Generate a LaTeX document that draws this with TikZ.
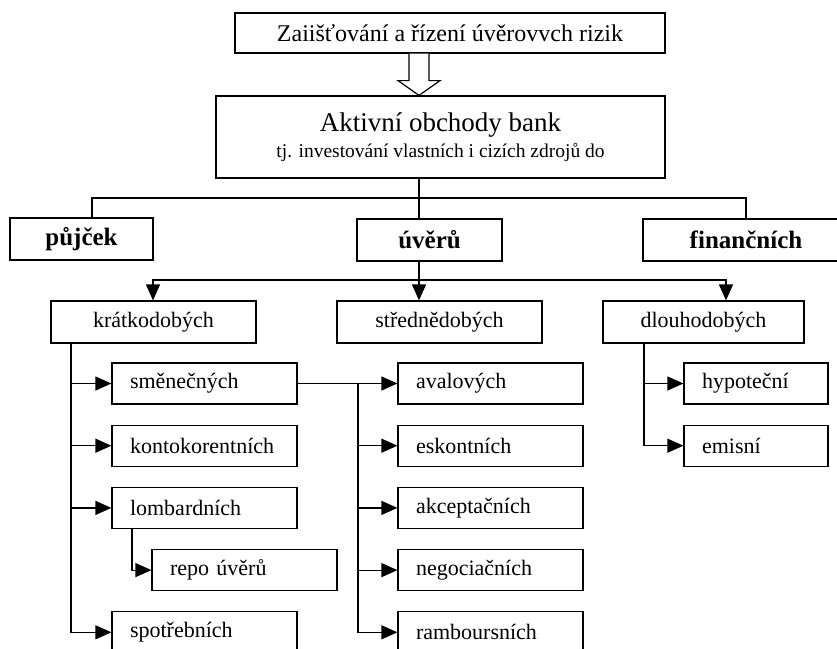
\documentclass[tikz,border=0pt]{standalone}
\usepackage{fontspec}
\setmainfont{Liberation Serif}
\usetikzlibrary{arrows.meta, positioning, calc}

\begin{document}
\begin{tikzpicture}[x=1pt,y=-1pt,node distance=20pt,>={Triangle[length=16pt,width=14pt]},line width=1.2pt]

	\tikzset{node box/.style={rectangle, draw, inner sep=0pt,
			minimum height=42pt,
			font=\fontsize{22}{26}\selectfont}}
	\tikzset{node head/.style={node box,
			font=\bfseries\fontsize{25}{28}\selectfont}}
	\tikzset{node sub/.style={node box, minimum height=41pt,
			inner xsep=18pt, text width=149pt, align=left}}
	\tikzset{link/.style={->, to path={|- (\tikztotarget)}}}

	\useasboundingbox (0,0) rectangle (837,648);
	\clip (0,0) rectangle (837,648);

	\node[node box, minimum width=430pt, minimum height=40pt, font=\fontsize{24}{28}\selectfont] (risk) at (450,33) {Zaiišťování a řízení úvěrovvch rizik};
	\node[node box, minimum width=449pt, minimum height=82pt, align=center, font=\fontsize{19.5}{26}\selectfont] (bank) at (440.5,137) {{\fontsize{27}{30}\selectfont Aktivní obchody bank}\\tj. investování vlastních i cizích zdrojů do};

	\node[node head, minimum width=143pt] (loan) at (81.5,239) {půjček};
	\node[node head, minimum width=145pt] (credit) at (429.5,240) {úvěrů};
	\node[node head, minimum width=206pt] (fin) at (746,240) {finančních};

	\node[node box, minimum width=205pt] (short) at (153.5,322) {krátkodobých};
	\node[node box, minimum width=205pt] (medium) at (439.5,322) {střednědobých};
	\node[node box, minimum width=201pt] (long) at (703.5,322) {dlouhodobých};

	\node[node sub] (S1) at (204.5,383.5) {směnečných};
	\node[node sub, below=of S1] (S2) {kontokorentních};
	\node[node sub, below=of S2] (S3) {lombardních};
	\node[node sub, below=of S3, xshift=40pt] (S4) {repo úvěrů};
	\node[node sub, below=of S4, xshift=-40pt] (S5) {spotřebních};

	\node[node sub] (M1) at (490.5,383.5) {avalových};
	\node[node sub, below=of M1] (M2) {eskontních};
	\node[node sub, below=of M2] (M3) {akceptačních};
	\node[node sub, below=of M3] (M4) {negociačních};
	\node[node sub, below=of M4] (M5) {ramboursních};

	\node[node sub, text width=108pt] (L1) at (756,383.5) {hypoteční};
	\node[node sub, text width=108pt, below=of L1] (L2) {emisní};

	% junctions of the connectors
	\coordinate (bus l) at (92,198);
	\coordinate (bus c) at (419,198);
	\coordinate (bus r) at (746,198);
	\coordinate (sub l) at (153,280);
	\coordinate (sub c) at (419,280);
	\coordinate (sub r) at (726,280);
	\coordinate (trunk s) at (71,0);
	\coordinate (trunk r) at (132,0);
	\coordinate (trunk m) at (358,0);
	\coordinate (trunk d) at (644,0);

	% hollow arrow
	\coordinate (tail) at (risk.south -| bus c);
	\coordinate (tip) at (bank.north -| bus c);
	\draw[fill=white] ($(tail)+(-10,0)$) -- ++(0,27) -- ++(-11,0) -- (tip)
		-- ($(tail)+(21,27)$) -- ++(-11,0) -- ++(0,-27);

	\draw (bank.south -| bus c) -- (credit.north -| bus c);
	\draw (loan.north -| bus l) -- (bus l) -- (bus r) -- (fin.north -| bus r);
	\draw (credit.south -| sub c) -- (sub c);
	\draw (sub c) edge[->] (medium.north -| sub c)
	(sub c) edge[->, to path={-| (\tikztotarget)}] (short.north -| sub l)
	(sub c) edge[->, to path={-| (\tikztotarget)}] (long.north -| sub r);

	\draw
	(short.south -| trunk s) edge[link] (S1.west)
	(short.south -| trunk s) edge[link] (S2.west)
	(short.south -| trunk s) edge[link] (S3.west)
	(short.south -| trunk s) edge[link] (S5.west)
	(S3.south -| trunk r) edge[link] (S4.west)
	(S1.east) edge[->] (M1.west)
	(S1.east -| trunk m) edge[link] (M2.west)
	(S1.east -| trunk m) edge[link] (M3.west)
	(S1.east -| trunk m) edge[link] (M4.west)
	(S1.east -| trunk m) edge[link] (M5.west)
	(long.south -| trunk d) edge[link] (L1.west)
	(long.south -| trunk d) edge[link] (L2.west);
\end{tikzpicture}
\end{document}
